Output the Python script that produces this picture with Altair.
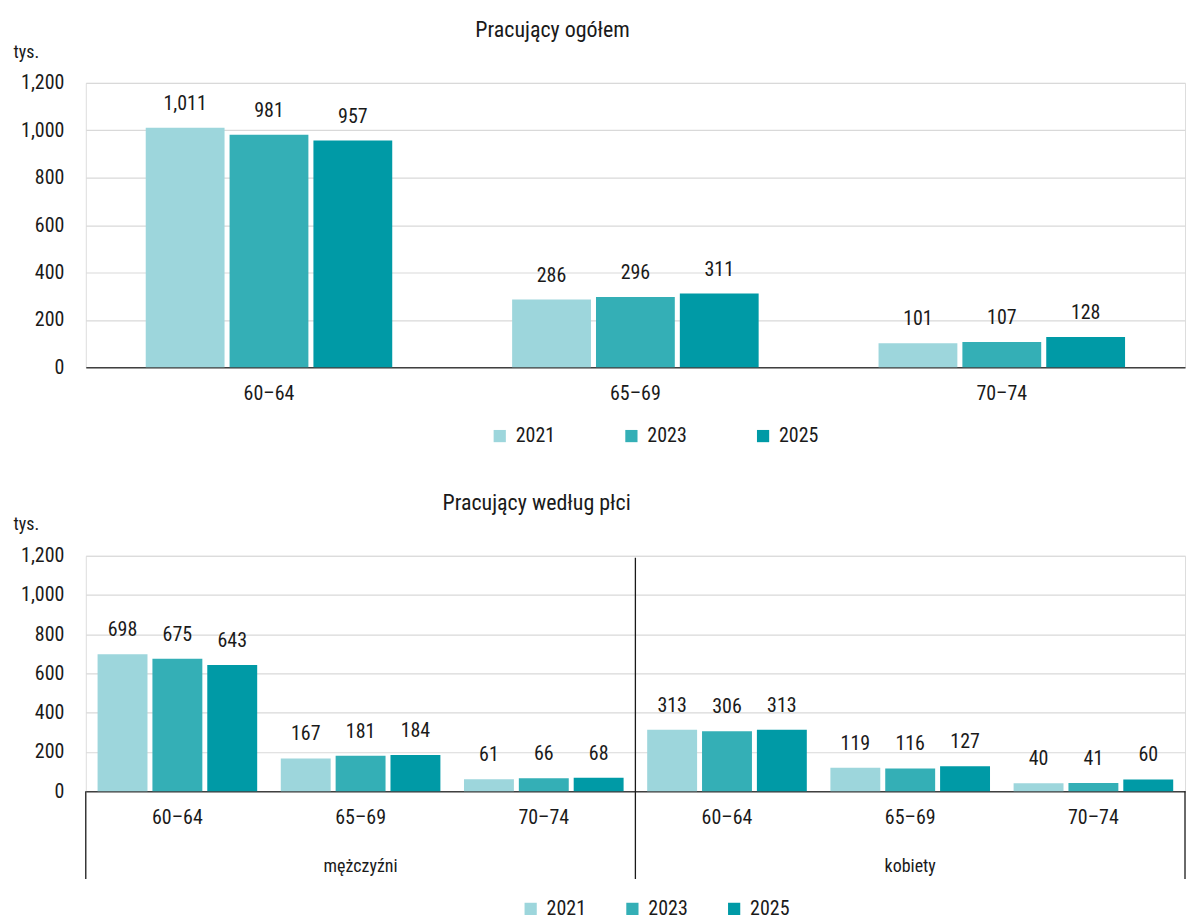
import altair as alt
import pandas as pd

FONT = "Noto Sans Condensed, Roboto Condensed, Roboto, sans-serif"
TEXT_COLOR = "#1a1a1a"

years = ["2021", "2023", "2025"]
year_colors = ["#9dd6dc", "#34afb6", "#009aa6"]
age_groups = ["60–64", "65–69", "70–74"]

# Employed persons aged 60-74, thousands
total_2021 = [1011, 286, 101]
total_2023 = [981, 296, 107]
total_2025 = [957, 311, 128]

sexes = ["mężczyźni", "kobiety"]
sex_codes = ["M", "K"]
men_2021 = [698, 167, 61]
men_2023 = [675, 181, 66]
men_2025 = [643, 184, 68]
women_2021 = [313, 119, 40]
women_2023 = [306, 116, 41]
women_2025 = [313, 127, 60]

y_ticks = [0, 200, 400, 600, 800, 1000, 1200]

# ---- long tables -------------------------------------------------------
total_rows = []
for year, series in zip(years, [total_2021, total_2023, total_2025]):
    for age, v in zip(age_groups, series):
        total_rows.append({"age": age, "year": year, "value": v})
total_df = pd.DataFrame(total_rows)

sex_series = {
    "M": [men_2021, men_2023, men_2025],
    "K": [women_2021, women_2023, women_2025],
}
sex_rows = []
for code in sex_codes:
    for year, series in zip(years, sex_series[code]):
        for age, v in zip(age_groups, series):
            sex_rows.append({"key": f"{code}|{age}", "year": year, "value": v})
sex_df = pd.DataFrame(sex_rows)
key_order = [f"{c}|{a}" for c in sex_codes for a in age_groups]

W = 1102
H_TOP = 285
H_BOT = 236
FS = 20


def y_axis(title_y):
    return alt.Axis(
        values=y_ticks, tickCount=len(y_ticks), format=",.0f", title="tys.", titleAngle=0,
        titleAlign="left", titleBaseline="alphabetic", titleX=-73, titleY=title_y,
        titleFont=FONT, titleFontSize=18, titleFontWeight="normal", titleColor=TEXT_COLOR,
        labelFont=FONT, labelFontSize=FS, labelColor=TEXT_COLOR, labelPadding=22,
        labelOverlap=False,
        domain=False, ticks=False, grid=True, gridColor="#d9d9d9", gridWidth=1.2,
    )


def legend(x, y, gap):
    return alt.Legend(
        orient="none", legendX=x, legendY=y, direction="horizontal", title=None,
        symbolType="square", symbolSize=150, symbolStrokeWidth=0,
        labelFont=FONT, labelFontSize=FS, labelColor=TEXT_COLOR,
        labelOffset=6, columnPadding=gap,
    )


color_top = alt.Color("year:N", scale=alt.Scale(domain=years, range=year_colors),
                      legend=legend(405, 344, 66))
color_bot = alt.Color("year:N", scale=alt.Scale(domain=years, range=year_colors),
                      legend=legend(436, 344, 36))

# ---- top panel: total employed ------------------------------------------
x_top = alt.X(
    "age:N", sort=age_groups, scale=alt.Scale(paddingInner=0, paddingOuter=0),
    axis=alt.Axis(title=None, labelAngle=0, ticks=False, domainColor="#404040",
                  domainWidth=1.5, labelFont=FONT, labelFontSize=FS,
                  labelColor=TEXT_COLOR, labelPadding=16, grid=False),
)
xoff_top = alt.XOffset("year:N", sort=years,
                       scale=alt.Scale(paddingInner=0.06, paddingOuter=0.715))
y_top = alt.Y("value:Q", scale=alt.Scale(domain=[0, 1200]), axis=y_axis(-26))

top_base = alt.Chart(total_df)
top_bars = top_base.mark_bar().encode(x=x_top, xOffset=xoff_top, y=y_top, color=color_top)
top_labels = top_base.mark_text(baseline="bottom", dy=-14, font=FONT, fontSize=FS,
                                color=TEXT_COLOR).encode(
    x=alt.X("age:N", sort=age_groups), xOffset=xoff_top, y="value:Q",
    text=alt.Text("value:Q", format=","),
)
top = alt.layer(top_bars, top_labels).properties(
    width=W, height=H_TOP,
    title=alt.TitleParams("Pracujący ogółem", font=FONT, fontSize=22,
                          fontWeight="normal", color=TEXT_COLOR, dx=-83, offset=1),
)

# ---- bottom panel: employed by sex -------------------------------------
x_bot = alt.X(
    "key:N", sort=key_order, scale=alt.Scale(paddingInner=0, paddingOuter=0),
    axis=alt.Axis(title=None, labelAngle=0, ticks=False, domainColor="#404040",
                  domainWidth=1.5, labelFont=FONT, labelFontSize=FS,
                  labelColor=TEXT_COLOR, labelPadding=16, grid=False,
                  labelExpr="split(datum.label, '|')[1]"),
)
xoff_bot = alt.XOffset("year:N", sort=years,
                       scale=alt.Scale(paddingInner=0.09, paddingOuter=0.215))
y_bot = alt.Y("value:Q", scale=alt.Scale(domain=[0, 1200]), axis=y_axis(-26))

bot_base = alt.Chart(sex_df)
bot_bars = bot_base.mark_bar().encode(x=x_bot, xOffset=xoff_bot, y=y_bot, color=color_bot)
bot_labels = bot_base.mark_text(baseline="bottom", dy=-14, font=FONT, fontSize=FS,
                                color=TEXT_COLOR).encode(
    x=alt.X("key:N", sort=key_order), xOffset=xoff_bot, y="value:Q",
    text=alt.Text("value:Q", format=","),
)

group_df = pd.DataFrame({"key": [f"{c}|65–69" for c in sex_codes], "label": sexes})
group_labels = alt.Chart(group_df).mark_text(font=FONT, fontSize=18, color=TEXT_COLOR,
                                             baseline="middle").encode(
    x=alt.X("key:N", sort=key_order), y=alt.value(H_BOT + 76), text="label:N",
)


def separator(key, band_pos, top_px):
    return alt.Chart(pd.DataFrame({"key": [key]})).mark_rule(
        color="#1a1a1a", strokeWidth=1.3
    ).encode(
        x=alt.X("key:N", sort=key_order, bandPosition=band_pos),
        y=alt.value(top_px), y2=alt.value(H_BOT + 88),
    )


sep_left = separator("M|60–64", 0, H_BOT)
sep_mid = separator("K|60–64", 0, 2)
sep_right = separator("K|70–74", 1, H_BOT)

bottom = alt.layer(bot_bars, bot_labels, group_labels, sep_left, sep_mid, sep_right).properties(
    width=W, height=H_BOT,
    title=alt.TitleParams("Pracujący według płci", font=FONT, fontSize=22,
                          fontWeight="normal", color=TEXT_COLOR, dx=-99, offset=1),
)

chart = alt.vconcat(top, bottom, spacing=44).resolve_scale(
    color="independent", x="independent", xOffset="independent", y="independent"
).properties(
    padding={"left": 12, "top": 17, "right": 0, "bottom": 0},
).configure_view(stroke=None).configure(font=FONT)

chart.save("out.html", embed_options={"renderer": "svg", "actions": False})
